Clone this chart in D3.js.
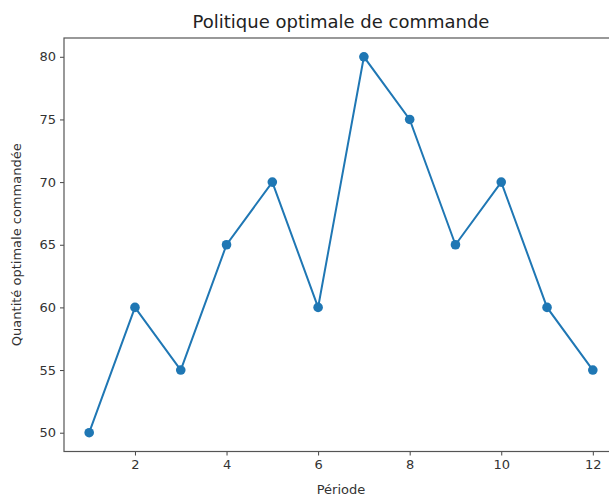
<!DOCTYPE html>
<html><head><meta charset="utf-8">
<script src="https://cdn.jsdelivr.net/npm/d3@7"></script>
<style>body{margin:0;background:#fff}svg{display:block}</style>
</head><body>
<svg id="c" width="609" height="496"></svg>
<script>
const periods = [1,2,3,4,5,6,7,8,9,10,11,12];
const quantities = [50,60,55,65,70,60,80,75,65,70,60,55];
const xTicks = [2,4,6,8,10,12];
const yTicks = [50,55,60,65,70,75,80];
const title = "Politique optimale de commande";
const xLabel = "Période";
const yLabel = "Quantité optimale commandée";

const svg = d3.select("#c");
const L = 64, R = 618, T = 38, B = 451.5;
const font = "DejaVu Sans, sans-serif";
const x = d3.scaleLinear().domain([1 - 0.55, 12 + 0.55]).range([L, R]);
const y = d3.scaleLinear().domain([48.5, 81.5]).range([B, T]);

const xa = svg.append("g").attr("transform", `translate(0,${B})`)
  .call(d3.axisBottom(x).tickValues(xTicks).tickSize(4).tickPadding(4).tickFormat(d3.format("d")));
const ya = svg.append("g").attr("transform", `translate(${L},0)`)
  .call(d3.axisLeft(y).tickValues(yTicks).tickSize(4).tickPadding(4).tickFormat(d3.format("d")));
[xa, ya].forEach(a => {
  a.selectAll("text").attr("font-family", font).attr("font-size", 13).attr("fill", "#333");
  a.selectAll("line").attr("stroke", "#444").attr("stroke-width", 1);
  a.select(".domain").remove();
});
// frame
svg.append("rect").attr("x", L).attr("y", T).attr("width", R - L).attr("height", B - T)
  .attr("fill", "none").attr("stroke", "#555").attr("stroke-width", 1.2);

const line = d3.line().x((d, i) => x(periods[i])).y(d => y(d));
svg.append("path").datum(quantities).attr("d", line)
  .attr("fill", "none").attr("stroke", "#1f77b4").attr("stroke-width", 2);
svg.append("g").selectAll("circle").data(quantities).join("circle")
  .attr("cx", (d, i) => x(periods[i])).attr("cy", d => y(d)).attr("r", 4.8)
  .attr("fill", "#1f77b4");

svg.append("text").attr("x", (L + R) / 2).attr("y", 28).attr("text-anchor", "middle")
  .attr("font-family", font).attr("font-size", 18).attr("fill", "#222").text(title);
svg.append("text").attr("x", (L + R) / 2).attr("y", 494).attr("text-anchor", "middle")
  .attr("font-family", font).attr("font-size", 13).attr("fill", "#333").text(xLabel);
svg.append("text").attr("transform", `translate(21,${(T + B) / 2}) rotate(-90)`).attr("text-anchor", "middle")
  .attr("font-family", font).attr("font-size", 13).attr("fill", "#333").text(yLabel);
</script>
</body></html>
